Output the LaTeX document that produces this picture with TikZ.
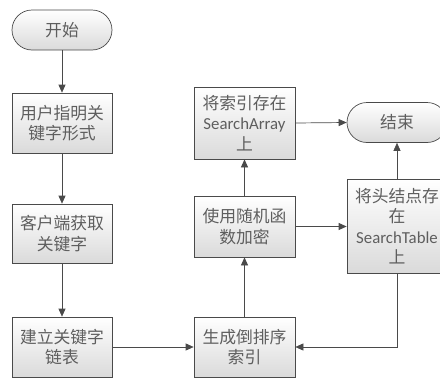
\documentclass[tikz,border=0pt]{standalone}
\usepackage{fontspec}
\setmainfont{Carlito}
\newfontfamily\cjk{Noto Sans CJK SC}
\usetikzlibrary{arrows.meta}
\definecolor{linec}{HTML}{4A4A4A}
\definecolor{textc}{HTML}{5E5E5E}
\definecolor{shadec}{HTML}{DADADA}
\tikzset{
  box/.style={draw=linec, line width=0.7pt, top color=white, bottom color=shadec,
    minimum width=100pt, align=center, inner sep=1pt, text=textc,
    font=\fontsize{16.8}{20.5}\selectfont},
  term/.style={box, rounded corners=20pt, minimum height=40pt},
  conn/.style={draw=linec, line width=0.7pt, -{Triangle[length=8pt,width=7pt]}},
}
\begin{document}
\begin{tikzpicture}[x=1pt,y=-1pt]
\useasboundingbox (0,0) rectangle (440,378);
\clip (0,0) rectangle (440,378);
\node[term] (start) at (62,30) {\cjk 开始};
\node[box, minimum height=60pt] (b1) at (62,123) {\cjk 用户指明关\\\cjk 键字形式};
\node[box, minimum height=59pt] (b2) at (62,233.5) {\cjk 客户端获取\\\cjk 关键字};
\node[box, minimum height=60pt] (b3) at (62,347) {\cjk 建立关键字\\\cjk 链表};
\node[box, minimum height=60pt, minimum width=101pt] (m3) at (244.5,347) {\cjk 生成倒排序\\\cjk 索引};
\node[box, minimum height=61pt, minimum width=101pt] (m2) at (244.5,226.5) {\cjk 使用随机函\\\cjk 数加密};
\node[box, minimum height=72pt, minimum width=101pt] (m1) at (244.5,123) {\cjk 将索引存在\\SearchArray\\\cjk 上};
\node[term] (end) at (397,122.5) {\cjk 结束};
\node[box, minimum height=94pt] (r1) at (397,226) {\cjk 将头结点存\\\cjk 在\\SearchTable\\\cjk 上};
\coordinate (corner) at (397,347);
\draw[conn] (start) -- (b1);
\draw[conn] (b1) -- (b2);
\draw[conn] (b2) -- (b3);
\draw[conn] (b3) -- (m3);
\draw[conn] (m3) -- (m2);
\draw[conn] (m2) -- (m1);
\draw[conn] (m1.east) -- (end.west);
\draw[conn] (m2.east) -- (r1.west |- m2.east);
\draw[conn] (r1) -- (end);
\draw[conn] (r1.south) -- (corner) -- (m3.east);
\end{tikzpicture}
\end{document}
